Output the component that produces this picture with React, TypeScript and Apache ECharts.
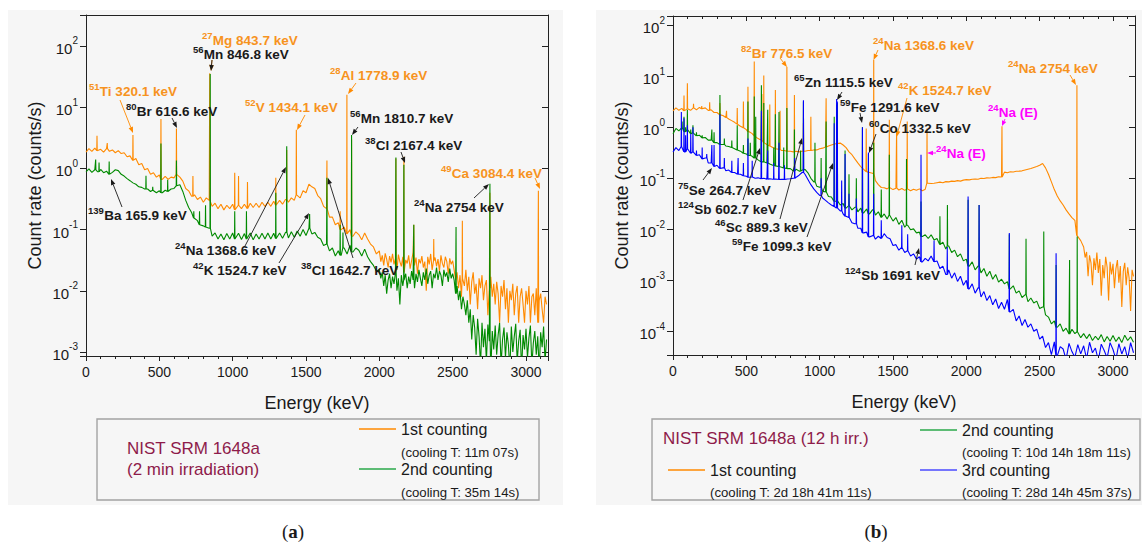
import React, { useEffect, useRef } from 'react';
import * as echarts from 'echarts';

// ---------------- data ----------------
// coarse continuum: samples every 20 keV starting at 0 keV (count rate, counts/s)
// fine continuum: samples every 10 keV starting at FINE_START (noisy high-energy part)
const STEP_KEV = 20;
const FINE_STEP_KEV = 10;
const X_MAX = 3150;

// (a) 1st counting (cooling 11m 07s): 0 .. 1980 keV
const contA1 = [
  1.85, 2.1, 1.9, 2.15, 1.95, 2.05, 1.85, 2.1, 1.9, 2.0,
  1.8, 1.95, 1.75, 1.8, 1.55, 1.6, 1.35, 1.45, 1.15, 1.2,
  0.95, 1.0, 0.8, 0.85, 0.72, 0.78, 0.66, 0.74, 0.66, 0.72,
  0.7, 0.8, 0.72, 0.62, 0.47, 0.43, 0.35, 0.37, 0.31, 0.34,
  0.28, 0.33, 0.3, 0.24, 0.27, 0.22, 0.26, 0.21, 0.25, 0.22,
  0.26, 0.21, 0.25, 0.22, 0.26, 0.22, 0.27, 0.23, 0.27, 0.23,
  0.28, 0.24, 0.28, 0.24, 0.29, 0.25, 0.3, 0.26, 0.31, 0.28,
  0.33, 0.3, 0.37, 0.33, 0.43, 0.4, 0.55, 0.5, 0.47, 0.36,
  0.32, 0.24, 0.22, 0.16, 0.16, 0.12, 0.13, 0.1, 0.11, 0.085,
  0.1, 0.078, 0.092, 0.083, 0.068, 0.088, 0.07, 0.058, 0.052, 0.04,
];
// (a) 1st counting: 2000 .. 3140 keV every 10 keV
const contA1Hi = [
  0.045, 0.03, 0.038, 0.026, 0.041, 0.033, 0.024, 0.037, 0.029, 0.04,
  0.027, 0.034, 0.022, 0.039, 0.03, 0.025, 0.036, 0.02, 0.032, 0.028,
  0.038, 0.023, 0.031, 0.042, 0.026, 0.035, 0.019, 0.033, 0.028, 0.037,
  0.024, 0.03, 0.01, 0.036, 0.027, 0.04, 0.022, 0.031, 0.035, 0.025,
  0.033, 0.021, 0.038, 0.028, 0.024, 0.036, 0.03, 0.019, 0.034, 0.027,
  0.031, 0.022, 0.015, 0.02, 0.011, 0.018, 0.008, 0.016, 0.012, 0.022,
  0.01, 0.017, 0.006, 0.014, 0.02, 0.009, 0.013, 0.005, 0.016, 0.011,
  0.018, 0.007, 0.012, 0.015, 0.004, 0.011, 0.017, 0.008, 0.013, 0.006,
  0.014, 0.009, 0.003, 0.012, 0.008, 0.015, 0.005, 0.011, 0.003, 0.01,
  0.007, 0.013, 0.004, 0.009, 0.012, 0.003, 0.008, 0.011, 0.006, 0.003,
  0.01, 0.006, 0.012, 0.003, 0.008, 0.009, 0.004, 0.011, 0.003, 0.007,
  0.009, 0.005, 0.003, 0.008, 0.006,
];
// (a) 2nd counting (cooling 35m 14s): 0 .. 1980 keV
const contA2 = [
  0.88, 0.98, 0.86, 0.95, 0.88, 0.96, 0.85, 0.9, 0.8, 0.86,
  0.95, 0.92, 0.8, 0.75, 0.68, 0.63, 0.58, 0.55, 0.5, 0.49,
  0.46, 0.46, 0.42, 0.44, 0.4, 0.43, 0.4, 0.44, 0.42, 0.46,
  0.47, 0.52, 0.54, 0.42, 0.3, 0.23, 0.19, 0.155, 0.14, 0.12,
  0.115, 0.11, 0.105, 0.078, 0.088, 0.07, 0.085, 0.068, 0.086, 0.07,
  0.088, 0.07, 0.087, 0.069, 0.086, 0.07, 0.088, 0.068, 0.085, 0.07,
  0.087, 0.07, 0.088, 0.07, 0.087, 0.071, 0.088, 0.072, 0.09, 0.073,
  0.092, 0.075, 0.095, 0.078, 0.1, 0.08, 0.105, 0.085, 0.09, 0.075,
  0.07, 0.055, 0.058, 0.045, 0.05, 0.037, 0.045, 0.038, 0.05, 0.04,
  0.055, 0.043, 0.05, 0.046, 0.037, 0.048, 0.036, 0.03, 0.026, 0.021,
];
// (a) 2nd counting: 2000 .. 3140 keV every 10 keV
const contA2Hi = [
  0.022, 0.016, 0.02, 0.012, 0.018, 0.009, 0.015, 0.019, 0.011, 0.017,
  0.013, 0.02, 0.01, 0.016, 0.006, 0.018, 0.012, 0.015, 0.019, 0.011,
  0.017, 0.013, 0.021, 0.015, 0.011, 0.019, 0.014, 0.022, 0.016, 0.012,
  0.02, 0.015, 0.023, 0.013, 0.018, 0.021, 0.011, 0.019, 0.016, 0.024,
  0.015, 0.021, 0.018, 0.012, 0.022, 0.017, 0.02, 0.014, 0.023, 0.016,
  0.019, 0.015, 0.009, 0.012, 0.007, 0.01, 0.005, 0.008, 0.006, 0.004,
  0.007, 0.003, 0.005, 0.0016, 0.004, 0.0025, 0.0009, 0.0035, 0.0018, 0.0006,
  0.003, 0.0012, 0.0024, 0.0007, 0.0028, 0.0015, 0.0005, 0.0022, 0.0011, 0.0027,
  0.0009, 0.0019, 0.003, 0.0006, 0.0016, 0.0025, 0.0008, 0.0021, 0.0013, 0.0005,
  0.0026, 0.001, 0.0018, 0.0029, 0.0007, 0.0015, 0.0023, 0.0005, 0.0019, 0.0011,
  0.0024, 0.0008, 0.0017, 0.0027, 0.0006, 0.0014, 0.0022, 0.0009, 0.0018, 0.0005,
  0.0021, 0.0012, 0.0026, 0.0007, 0.0016,
];
// peaks [energy keV, peak count rate]
const peaksA1: [number, number][] = [
  [75, 3.4], [145, 2.6], [320.1, 3.5], [511, 6.4], [616.6, 4.5], [729, 0.75],
  [843.7, 36], [1014, 0.85], [1040, 0.75], [1101, 0.6], [1294, 0.7], [1368.6, 2.0],
  [1434.1, 4.3], [1642.7, 1.35], [1733, 0.2], [1778.9, 16], [1810.7, 3.0], [2113, 1.45],
  [2167.4, 1.55], [2235, 0.12], [2371, 0.07], [2566, 0.14], [2754, 0.4], [3084.4, 0.43],
];
const peaksA2: [number, number][] = [
  [66, 1.4], [89, 1.25], [158, 1.3], [409, 0.76], [455, 0.5], [511, 2.55], [557, 0.65],
  [616.6, 1.35], [735, 0.2], [774, 0.2], [815, 0.25], [846.8, 35], [1014, 0.2], [1094, 0.2],
  [1294, 0.4], [1368.6, 2.3], [1524.7, 0.18], [1642.7, 0.7], [1733, 0.12], [1752, 0.09],
  [1810.7, 3.5], [2113, 1.5], [2167.4, 1.15], [2235, 0.12], [2523, 0.11], [2754, 0.56],
];

// (b) 1st counting (cooling 2d 18h 41m 11s): 0 .. 2780 keV
const contB1 = [
  2.1, 2.4, 2.15, 2.35, 2.1, 2.3, 2.15, 2.4, 2.2, 2.45,
  2.3, 2.4, 2.15, 2.2, 1.95, 1.95, 1.75, 1.7, 1.55, 1.45,
  1.35, 1.25, 1.15, 1.05, 0.98, 0.9, 0.82, 0.75, 0.68, 0.6,
  0.56, 0.5, 0.46, 0.43, 0.4, 0.38, 0.37, 0.35, 0.35, 0.34,
  0.34, 0.33, 0.34, 0.33, 0.34, 0.34, 0.35, 0.35, 0.36, 0.36,
  0.38, 0.39, 0.41, 0.43, 0.45, 0.47, 0.48, 0.49, 0.45, 0.4,
  0.33, 0.29, 0.24, 0.2, 0.17, 0.15, 0.135, 0.13, 0.125, 0.09,
  0.075, 0.066, 0.065, 0.062, 0.066, 0.06, 0.064, 0.059, 0.063, 0.058,
  0.062, 0.057, 0.061, 0.058, 0.062, 0.057, 0.061, 0.08, 0.079, 0.08,
  0.082, 0.084, 0.082, 0.086, 0.085, 0.088, 0.087, 0.09, 0.088, 0.092,
  0.094, 0.093, 0.096, 0.097, 0.096, 0.1, 0.099, 0.102, 0.101, 0.104,
  0.103, 0.107, 0.106, 0.132, 0.128, 0.134, 0.133, 0.137, 0.138, 0.14,
  0.145, 0.15, 0.155, 0.163, 0.17, 0.18, 0.195, 0.16, 0.12, 0.085,
  0.06, 0.045, 0.036, 0.03, 0.024, 0.02, 0.017, 0.015, 0.0075, 0.006,
];
// (b) 1st counting: 2800 .. 3140 keV every 10 keV
const contB1Hi = [
  0.0045, 0.0028, 0.0036, 0.0012, 0.0031, 0.0022, 0.0008, 0.0027, 0.0016, 0.0035,
  0.0014, 0.0026, 0.0005, 0.002, 0.0011, 0.0029, 0.0018, 0.0004, 0.0023, 0.0013,
  0.0021, 0.0007, 0.0017, 0.0025, 0.0009, 0.0019, 0.0003, 0.0015, 0.0022, 0.0008,
  0.0018, 0.0011, 0.00025, 0.0016, 0.0012,
];
// (b) 2nd counting (cooling 10d 14h 18m 11s): 0 .. 3140 keV
const contB2 = [
  0.75, 0.95, 0.85, 0.98, 0.82, 0.9, 0.75, 0.78, 0.68, 0.7,
  0.62, 0.63, 0.56, 0.56, 0.5, 0.5, 0.46, 0.46, 0.43, 0.42,
  0.4, 0.38, 0.36, 0.34, 0.31, 0.3, 0.28, 0.27, 0.25, 0.23,
  0.21, 0.21, 0.2, 0.19, 0.18, 0.175, 0.17, 0.165, 0.16, 0.155,
  0.155, 0.14, 0.15, 0.138, 0.145, 0.15, 0.128, 0.1, 0.085, 0.07,
  0.067, 0.056, 0.054, 0.044, 0.043, 0.035, 0.036, 0.03, 0.032, 0.026,
  0.029, 0.024, 0.027, 0.022, 0.026, 0.021, 0.025, 0.02, 0.024, 0.019,
  0.022, 0.017, 0.02, 0.016, 0.019, 0.0145, 0.017, 0.0125, 0.015, 0.011,
  0.012, 0.0098, 0.0102, 0.0085, 0.0088, 0.0072, 0.0078, 0.0066, 0.0078, 0.0062,
  0.0066, 0.005, 0.0056, 0.0041, 0.0047, 0.0035, 0.0039, 0.0029, 0.0033, 0.0024,
  0.0026, 0.0019, 0.0023, 0.0016, 0.0019, 0.0014, 0.0017, 0.0012, 0.0015, 0.00105,
  0.0013, 0.00092, 0.00105, 0.00085, 0.00094, 0.00068, 0.00078, 0.00056, 0.00062, 0.00046,
  0.00052, 0.00038, 0.00045, 0.00036, 0.00039, 0.00028, 0.0003, 0.00021, 0.00019, 0.00014,
  0.00016, 0.00012, 0.00014, 0.0001, 0.000115, 0.000088, 0.00011, 0.00009, 0.000098, 0.000075,
  0.00009, 0.000072, 0.000088, 0.000066, 0.00008, 0.000068, 0.000086, 0.000062, 0.000079, 0.000064,
  0.000083, 0.000063, 0.000077, 0.00006, 0.000084, 0.000066, 0.000078, 0.000061,
];
// (b) 3rd counting (cooling 28d 14h 45m 37s): 0 .. 3140 keV
const contB3 = [
  0.33, 0.4, 0.35, 0.42, 0.33, 0.38, 0.31, 0.33, 0.28, 0.29,
  0.24, 0.25, 0.2, 0.2, 0.17, 0.18, 0.155, 0.16, 0.14, 0.145,
  0.13, 0.13, 0.12, 0.12, 0.112, 0.11, 0.105, 0.106, 0.1, 0.102,
  0.098, 0.1, 0.096, 0.098, 0.096, 0.097, 0.095, 0.096, 0.095, 0.097,
  0.098, 0.1, 0.105, 0.115, 0.13, 0.12, 0.095, 0.075, 0.062, 0.053,
  0.046, 0.041, 0.037, 0.033, 0.03, 0.028, 0.026, 0.023, 0.02, 0.018,
  0.017, 0.0135, 0.0128, 0.0105, 0.0105, 0.0085, 0.0088, 0.0071, 0.0075, 0.0064,
  0.0073, 0.0066, 0.0082, 0.0069, 0.0065, 0.0048, 0.005, 0.0039, 0.0044, 0.0035,
  0.0038, 0.003, 0.0033, 0.0026, 0.0029, 0.0023, 0.0027, 0.0024, 0.003, 0.0023,
  0.0024, 0.0017, 0.0019, 0.0013, 0.0016, 0.0011, 0.0014, 0.00095, 0.0012, 0.0008,
  0.001, 0.00068, 0.00085, 0.00056, 0.00071, 0.00047, 0.0006, 0.0004, 0.0005, 0.00033,
  0.00043, 0.00028, 0.00037, 0.00027, 0.00042, 0.00024, 0.00027, 0.00016, 0.0002, 0.00013,
  0.00017, 0.00012, 0.00014, 0.0001, 0.00011, 0.00007, 0.00008, 0.000048, 0.00006, 0.000035,
  0.000062, 0.000033, 0.00005, 0.000045, 0.000028, 0.000058, 0.00004, 0.000031, 0.000055, 0.000036,
  0.000052, 0.000029, 0.000061, 0.000038, 0.000047, 0.000027, 0.000056, 0.000042, 0.00003, 0.00006,
  0.000044, 0.000028, 0.000057, 0.000036, 0.00005, 0.000029, 0.00006, 0.000038,
];
const peaksB1: [number, number][] = [
  [75, 4.2], [98, 7.3], [140, 2.9], [196, 2.6], [250, 3.1], [320, 3.0], [365, 2.1],
  [438, 2.4], [480, 3.2], [511, 6.2], [554, 19.4], [606, 4.5], [619, 10.4], [660, 2.8],
  [698, 5.4], [730, 2.1], [776.5, 15.4], [827.8, 4.3], [889.3, 1.2], [940, 1.6],
  [1044, 3.7], [1120.5, 1.0], [1317.5, 0.95], [1368.6, 21], [1474.9, 1.4], [1524.7, 0.94],
  [1597, 1.3], [1732, 0.95], [2243, 1.05], [2754, 6.7],
];
const peaksB2: [number, number][] = [
  [62, 1.3], [75, 1.6], [86, 1.0], [98, 2.2], [121, 0.9], [136, 1.1], [160, 0.8],
  [199, 0.7], [265, 0.9], [280, 0.8], [320, 4.3], [350, 0.6], [401, 0.55], [438, 1.1],
  [480, 0.45], [511, 3.2], [527, 0.5], [554, 4.0], [564, 1.6], [602.7, 6.7], [619, 3.0],
  [645.9, 2.2], [687, 0.4], [698, 1.8], [722.8, 2.0], [755, 0.4], [776.5, 2.4], [827.8, 0.9],
  [870, 0.35], [889.3, 3.2], [968, 0.5], [1010, 0.25], [1044, 1.3], [1099.3, 1.6],
  [1115.5, 2.8], [1120.5, 3.0], [1173.2, 0.35], [1200, 0.12], [1250, 0.1], [1291.6, 1.0],
  [1332.5, 0.3], [1368.6, 0.5], [1420, 0.06], [1474.9, 0.29], [1592, 0.24], [1691, 0.035],
  [1820, 0.018], [1871, 0.03], [2012, 0.038], [2087, 0.03], [2293, 0.008], [2407, 0.0065],
  [2528, 0.009], [2612, 0.002], [2704, 0.0025], [2756, 0.0072],
];
const peaksB3: [number, number][] = [
  [57, 2.0], [75, 1.5], [86, 0.7], [98, 1.1], [121, 0.75], [136, 1.0], [160, 0.35],
  [199, 0.4], [230, 0.3], [265, 0.45], [280, 0.45], [320, 1.8], [350, 0.25], [401, 0.22],
  [444, 0.25], [480, 0.2], [511, 0.6], [540, 0.22], [602.7, 2.1], [645.9, 0.35], [687, 0.2],
  [722.8, 0.5], [760, 0.18], [830, 0.25], [889.3, 3.4], [1010, 0.1], [1099.3, 1.2],
  [1115.5, 3.6], [1120.5, 3.2], [1150, 0.09], [1173.2, 0.3], [1200, 0.05], [1250, 0.04],
  [1291.6, 1.0], [1332.5, 0.32], [1368, 0.05], [1420, 0.015], [1560, 0.012], [1600, 0.008],
  [1691, 0.29], [1780, 0.006], [1870, 0.0045], [2012, 0.044], [2087, 0.03], [2293, 0.0085],
  [2612, 0.0034],
];

// legend / title texts
const titleA = ['NIST SRM 1648a', '(2 min irradiation)'];
const titleB = 'NIST SRM 1648a (12 h irr.)';
const countA = ['1st counting', '(cooling T: 11m 07s)', '2nd counting', '(cooling T: 35m 14s)'];
const countB = [
  '1st counting', '(cooling T: 2d 18h 41m 11s)',
  '2nd counting', '(cooling T: 10d 14h 18m 11s)',
  '3rd counting', '(cooling T: 28d 14h 45m 37s)',
];

// ---------------- styles ----------------
const FONT = '"Liberation Sans", Arial, Helvetica, sans-serif';
const SERIF = '"Liberation Serif", "Times New Roman", serif';
const TXT = '#1a1a1a';
const AX = '#222222';
const ORANGE = '#ff8a00';
const ORANGE_TXT = '#f7931e';
const GREEN = '#008a00';
const GREEN_LEG = '#2aa84a';
const BLUE = '#0000ff';
const BLUE_LEG = '#4a4aff';
const MAGENTA = '#ff00ff';
const MAROON = '#8e1b4a';
const PANEL_BG = '#f6f6f6';
const ANN_SIZE = 13.5;
const SUP_SIZE = 9.5;

type Ann = { sup: string; text: string; color: string; x: number; y: number; from: [number, number]; to: [number, number] };

const annA: Ann[] = [
  { sup: '51', text: 'Ti 320.1 keV', color: ORANGE_TXT, x: 89, y: 91, from: [120, 100], to: [133, 133] },
  { sup: '27', text: 'Mg 843.7 keV', color: ORANGE_TXT, x: 202, y: 40, from: [212, 60], to: [211, 71] },
  { sup: '56', text: 'Mn 846.8 keV', color: TXT, x: 193, y: 54, from: [212, 60], to: [211, 71] },
  { sup: '80', text: 'Br 616.6 keV', color: TXT, x: 126, y: 111, from: [172, 118], to: [177, 128] },
  { sup: '52', text: 'V 1434.1 keV', color: ORANGE_TXT, x: 245, y: 107, from: [305, 115], to: [297, 130] },
  { sup: '28', text: 'Al 1778.9 keV', color: ORANGE_TXT, x: 330, y: 75, from: [356, 83], to: [348, 94] },
  { sup: '56', text: 'Mn 1810.7 keV', color: TXT, x: 350, y: 118, from: [358, 127], to: [352, 135] },
  { sup: '38', text: 'Cl 2167.4 keV', color: TXT, x: 365, y: 145, from: [401, 152], to: [405, 163] },
  { sup: '49', text: 'Ca 3084.4 keV', color: ORANGE_TXT, x: 441, y: 173, from: [535, 178], to: [540, 189] },
  { sup: '24', text: 'Na 2754 keV', color: TXT, x: 414, y: 207, from: [474, 198], to: [489, 184] },
  { sup: '139', text: 'Ba 165.9 keV', color: TXT, x: 88, y: 215, from: [122, 207], to: [111, 179] },
  { sup: '24', text: 'Na 1368.6 keV', color: TXT, x: 175, y: 250, from: [245, 246], to: [286, 167] },
  { sup: '42', text: 'K 1524.7 keV', color: TXT, x: 193, y: 270, from: [279, 263], to: [309, 213] },
  { sup: '38', text: 'Cl 1642.7 keV', color: TXT, x: 301, y: 270, from: [353, 258], to: [328, 178] },
];
const annB: Ann[] = [
  { sup: '82', text: 'Br 776.5 keV', color: ORANGE_TXT, x: 741, y: 53, from: [780, 58], to: [787, 67] },
  { sup: '24', text: 'Na 1368.6 keV', color: ORANGE_TXT, x: 873, y: 45, from: [878, 50], to: [873.5, 60] },
  { sup: '24', text: 'Na 2754 keV', color: ORANGE_TXT, x: 1008, y: 68, from: [1070, 75], to: [1076, 85] },
  { sup: '65', text: 'Zn 1115.5 keV', color: TXT, x: 794, y: 82, from: [842, 92], to: [837, 100] },
  { sup: '42', text: 'K 1524.7 keV', color: ORANGE_TXT, x: 898, y: 90, from: [907, 98], to: [896.5, 137] },
  { sup: '59', text: 'Fe 1291.6 keV', color: TXT, x: 840, y: 107, from: [860, 113], to: [862, 123] },
  { sup: '60', text: 'Co 1332.5 keV', color: TXT, x: 869, y: 128, from: [876, 134], to: [869, 153] },
  { sup: '24', text: 'Na (E)', color: MAGENTA, x: 988, y: 112, from: [1005, 119], to: [1002, 126] },
  { sup: '24', text: 'Na (E)', color: MAGENTA, x: 936, y: 153, from: [936, 153], to: [927, 153] },
  { sup: '75', text: 'Se 264.7 keV', color: TXT, x: 678, y: 190, from: [703, 180], to: [712, 168] },
  { sup: '124', text: 'Sb 602.7 keV', color: TXT, x: 678, y: 209, from: [743, 200], to: [760, 148] },
  { sup: '46', text: 'Sc 889.3 keV', color: TXT, x: 715, y: 227, from: [780, 219], to: [802, 138] },
  { sup: '59', text: 'Fe 1099.3 keV', color: TXT, x: 732, y: 246, from: [807, 237], to: [833, 163] },
  { sup: '124', text: 'Sb 1691 keV', color: TXT, x: 845, y: 275, from: [915, 265], to: [919, 248] },
];

// ---------------- helpers ----------------
function samples(values: number[], start: number, step: number): [number, number][] {
  return values.map((v, i) => [start + i * step, v]);
}

function spectrum(coarse: number[], peaks: [number, number][], fine: number[] = [], fineStart = Infinity) {
  const cont = [
    ...samples(coarse, 0, STEP_KEV).filter((p) => p[0] < fineStart),
    ...samples(fine, fineStart === Infinity ? 0 : fineStart, FINE_STEP_KEV),
  ];
  const pts: [number, number][] = [...cont];
  for (const [e, h] of peaks) {
    // peak rises from the nearest measured continuum sample
    let base = cont[0][1];
    let best = Infinity;
    for (const [x, v] of cont) {
      const d = Math.abs(x - e);
      if (d < best) { best = d; base = v; }
    }
    pts.push([e - 1.5, base], [e, h], [e + 1.5, base]);
  }
  pts.sort((p, q) => p[0] - q[0]);
  return pts;
}

// nuclide label: small superscript mass number followed by the main text
function supText(x: number, y: number, sup: string, main: string, color: string) {
  const supW = sup.length * 0.556 * SUP_SIZE; // digit advance of Arial-metric font
  return [
    {
      type: 'text', x, y: y - 5, z: 100, silent: true,
      style: { text: sup, fontFamily: FONT, fontSize: SUP_SIZE, fontWeight: 'bold', fill: color, align: 'left', verticalAlign: 'middle' },
    },
    {
      type: 'text', x: x + supW + 0.3, y, z: 100, silent: true,
      style: { text: main, fontFamily: FONT, fontSize: ANN_SIZE, fontWeight: 'bold', fill: color, align: 'left', verticalAlign: 'middle' },
    },
  ];
}

function arrow(from: [number, number], to: [number, number], color: string) {
  const [x1, y1] = from;
  const [x2, y2] = to;
  const ang = Math.atan2(y2 - y1, x2 - x1);
  const L = Math.min(6, Math.hypot(x2 - x1, y2 - y1) * 0.7);
  const W = 2.3;
  const bx = x2 - L * Math.cos(ang);
  const by = y2 - L * Math.sin(ang);
  const px = -Math.sin(ang) * W;
  const py = Math.cos(ang) * W;
  return [
    { type: 'line', z: 99, silent: true, shape: { x1, y1, x2: bx, y2: by }, style: { stroke: color, lineWidth: 0.9 } },
    { type: 'polygon', z: 99, silent: true, shape: { points: [[x2, y2], [bx + px, by + py], [bx - px, by - py]] }, style: { fill: color } },
  ];
}

function plainText(x: number, y: number, text: string, size: number, color: string) {
  return { type: 'text', x, y, z: 100, silent: true, style: { text, fontFamily: FONT, fontSize: size, fill: color, align: 'left', verticalAlign: 'middle' } };
}

function legLine(x1: number, x2: number, y: number, color: string) {
  return { type: 'line', z: 100, silent: true, shape: { x1, y1: y, x2, y2: y }, style: { stroke: color, lineWidth: 1.3 } };
}

const yRich = {
  b: { fontFamily: FONT, fontSize: 15, color: TXT, lineHeight: 20, verticalAlign: 'bottom' },
  s: { fontFamily: FONT, fontSize: 10, color: TXT, lineHeight: 10, verticalAlign: 'top' },
};

function logLabel(v: number) {
  const l = Math.log10(v);
  const r = Math.round(l);
  if (Math.abs(l - r) > 0.01) return '';
  return `{b|10}{s|${r}}`;
}

function xBottom(gridIndex: number) {
  return {
    gridIndex, type: 'value', min: 0, max: X_MAX, interval: 500, position: 'bottom',
    axisLine: { show: true, onZero: false, lineStyle: { color: AX, width: 1 } },
    axisTick: { show: true, inside: false, length: 5, lineStyle: { color: AX } },
    minorTick: { show: true, splitNumber: 5, length: 3, lineStyle: { color: AX } },
    axisLabel: {
      fontFamily: FONT, fontSize: 14, color: TXT, margin: 9,
      formatter: (v: number) => (v % 500 === 0 ? String(v) : ''),
    },
    splitLine: { show: false },
    minorSplitLine: { show: false },
    name: 'Energy (keV)', nameLocation: 'middle', nameGap: 38,
    nameTextStyle: { fontFamily: FONT, fontSize: 18, color: TXT },
  };
}
function xTop(gridIndex: number, ticks: boolean) {
  return {
    gridIndex, type: 'value', min: 0, max: X_MAX, interval: 500, position: 'top',
    axisLine: { show: true, onZero: false, lineStyle: { color: AX, width: 1 } },
    axisTick: { show: ticks, inside: true, length: 5, lineStyle: { color: AX } },
    minorTick: { show: ticks, splitNumber: 5, length: 3, lineStyle: { color: AX } },
    axisLabel: { show: false },
    splitLine: { show: false },
  };
}
function yLeft(gridIndex: number, min: number, max: number) {
  return {
    gridIndex, type: 'log', logBase: 10, min, max, position: 'left',
    axisLine: { show: true, onZero: false, lineStyle: { color: AX, width: 1 } },
    axisTick: { show: true, inside: false, length: 6, lineStyle: { color: AX } },
    axisLabel: { formatter: logLabel, rich: yRich, margin: 8 },
    splitLine: { show: false },
    name: 'Count rate (counts/s)', nameLocation: 'middle', nameGap: 42,
    nameTextStyle: { fontFamily: FONT, fontSize: 18, color: TXT },
  };
}
function yRight(gridIndex: number, min: number, max: number) {
  return {
    gridIndex, type: 'log', logBase: 10, min, max, position: 'right',
    axisLine: { show: true, onZero: false, lineStyle: { color: AX, width: 1 } },
    axisTick: { show: true, inside: true, length: 6, lineStyle: { color: AX } },
    axisLabel: { show: false },
    splitLine: { show: false },
  };
}

function lineSeries(name: string, data: [number, number][], color: string, xi: number, yi: number, z: number) {
  return {
    name, type: 'line', xAxisIndex: xi, yAxisIndex: yi, data,
    showSymbol: false, symbol: 'none', silent: true, z,
    lineStyle: { color, width: 1.1 },
    emphasis: { disabled: true },
  };
}

function buildOption() {
  const graphics: any[] = [
    { type: 'rect', z: -10, silent: true, shape: { x: 8, y: 10, width: 555, height: 495 }, style: { fill: PANEL_BG } },
    { type: 'rect', z: -10, silent: true, shape: { x: 596, y: 10, width: 546, height: 495 }, style: { fill: PANEL_BG } },
  ];
  for (const a of [...annA, ...annB]) {
    graphics.push(...arrow(a.from, a.to, a.color === ORANGE_TXT ? ORANGE : a.color));
  }
  for (const a of [...annA, ...annB]) {
    graphics.push(...supText(a.x, a.y, a.sup, a.text, a.color));
  }
  // legend (a)
  graphics.push(
    { type: 'rect', z: 90, silent: true, shape: { x: 97, y: 419, width: 442, height: 81 }, style: { fill: 'none', stroke: '#a3a3a3', lineWidth: 1.4 } },
    plainText(127, 448, titleA[0], 17, MAROON),
    plainText(127, 469, titleA[1], 17, MAROON),
    legLine(359, 396, 429, ORANGE),
    plainText(401, 429, countA[0], 16, TXT),
    plainText(401, 452, countA[1], 13.2, TXT),
    legLine(359, 396, 469, GREEN_LEG),
    plainText(401, 469, countA[2], 16, TXT),
    plainText(401, 492, countA[3], 13.2, TXT),
  );
  // legend (b)
  graphics.push(
    { type: 'rect', z: 90, silent: true, shape: { x: 652, y: 419, width: 488, height: 81 }, style: { fill: 'none', stroke: '#a3a3a3', lineWidth: 1.4 } },
    plainText(663, 438, titleB, 17, MAROON),
    legLine(668, 705, 470, ORANGE),
    plainText(710, 470, countB[0], 16, TXT),
    plainText(710, 492, countB[1], 13.2, TXT),
    legLine(920, 957, 430, GREEN_LEG),
    plainText(962, 430, countB[2], 16, TXT),
    plainText(962, 452, countB[3], 13.2, TXT),
    legLine(920, 957, 470, BLUE_LEG),
    plainText(962, 470, countB[4], 16, TXT),
    plainText(962, 492, countB[5], 13.2, TXT),
  );
  // panel captions
  const cap = (x: number, letter: string) => ({
    type: 'text', x, y: 531, z: 100, silent: true,
    style: {
      text: `{p|(}{b|${letter}}{p|)}`, align: 'center', verticalAlign: 'middle',
      rich: {
        p: { fontFamily: SERIF, fontSize: 19, fill: TXT },
        b: { fontFamily: SERIF, fontSize: 19, fontWeight: 'bold', fill: TXT },
      },
    },
  });
  graphics.push(cap(293, 'a'), cap(876, 'b'));

  return {
    animation: false,
    backgroundColor: '#ffffff',
    textStyle: { fontFamily: FONT },
    grid: [
      { left: 86, top: 15, width: 462, height: 341, containLabel: false, outerBoundsMode: 'none' },
      { left: 673, top: 16, width: 462, height: 339, containLabel: false, outerBoundsMode: 'none' },
    ],
    xAxis: [xBottom(0), xTop(0, false), xBottom(1), xTop(1, true)],
    yAxis: [
      yLeft(0, 8.6e-4, 321), yRight(0, 8.6e-4, 321),
      yLeft(1, 3.43e-5, 152), yRight(1, 3.43e-5, 152),
    ],
    series: [
      lineSeries('a1', spectrum(contA1, peaksA1, contA1Hi, 2000), ORANGE, 0, 0, 2),
      lineSeries('a2', spectrum(contA2, peaksA2, contA2Hi, 2000), GREEN, 0, 0, 3),
      lineSeries('b1', spectrum(contB1, peaksB1, contB1Hi, 2800), ORANGE, 2, 2, 2),
      lineSeries('b2', spectrum(contB2, peaksB2), GREEN, 2, 2, 3),
      lineSeries('b3', spectrum(contB3, peaksB3), BLUE, 2, 2, 4),
    ],
    graphic: { elements: graphics },
  };
}

export default function App() {
  const ref = useRef<HTMLDivElement>(null);
  useEffect(() => {
    if (!ref.current) return;
    const chart = echarts.init(ref.current, undefined, { renderer: 'svg', width: 1142, height: 546 });
    chart.setOption(buildOption() as any);
    return () => chart.dispose();
  }, []);
  return (
    <div
      ref={ref}
      style={{ position: 'absolute', left: 0, top: 0, width: 1142, height: 546, background: '#ffffff' }}
    />
  );
}
